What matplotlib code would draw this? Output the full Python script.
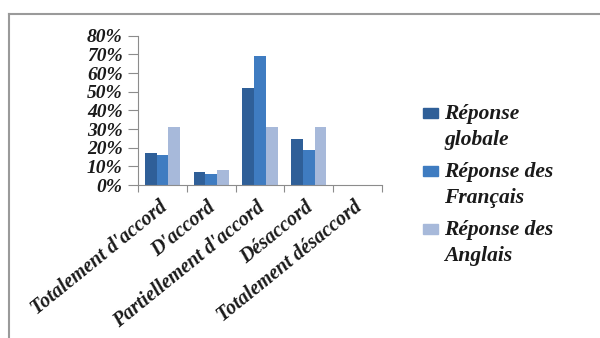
import numpy as np
import matplotlib.pyplot as plt
import matplotlib.transforms as mtransforms
from matplotlib.lines import Line2D
from matplotlib.patches import Rectangle
from matplotlib.ticker import FixedLocator, PercentFormatter

categories = ["Totalement d'accord", "D'accord", "Partiellement d'accord",
              "Désaccord", "Totalement désaccord"]
globale = [17, 7, 52, 24.5, 0]
francais = [16, 6, 69, 18.5, 0]
anglais = [31, 8, 31, 31, 0]
series_names = [("Réponse", "globale"), ("Réponse des", "Français"),
                ("Réponse des", "Anglais")]
colors = ["#2F5F98", "#3F7CC1", "#A7B9DA"]

plt.rcParams['font.family'] = ['Liberation Serif', 'DejaVu Serif']
txt = dict(fontweight='bold', fontstyle='italic', color='#1a1a1a')

W, H = 600, 338
fig = plt.figure(figsize=(W / 100, H / 100), dpi=100)
ax = fig.add_axes([138 / W, 1 - 185 / H, 244 / W, 149.3 / H])

x = np.arange(len(categories))
w = 0.24
for i, vals in enumerate([globale, francais, anglais]):
    ax.bar(x + (i - 1) * w, vals, w, color=colors[i])

ax.set_xlim(-0.5, len(categories) - 0.5)
ax.set_ylim(0, 80)
ax.set_yticks(np.arange(0, 81, 10))
ax.yaxis.set_major_formatter(PercentFormatter(decimals=0))
for s in ['top', 'right']:
    ax.spines[s].set_visible(False)
for s in ['left', 'bottom']:
    ax.spines[s].set_color('#8c8c8c')
ax.tick_params(axis='y', colors='#8c8c8c', length=7, labelcolor='#1a1a1a',
               labelsize=14, pad=4)
for t in ax.get_yticklabels():
    t.set_fontweight('bold')
    t.set_fontstyle('italic')

# ticks at group boundaries, labels at group centers
ax.xaxis.set_major_locator(FixedLocator(np.arange(len(categories) + 1) - 0.5))
ax.xaxis.set_minor_locator(FixedLocator(x))
ax.tick_params(axis='x', which='major', colors='#8c8c8c', length=5, labelbottom=False)
ax.tick_params(axis='x', which='minor', length=0, pad=9)
ax.set_xticklabels(categories, minor=True, rotation=39, ha='right',
                   rotation_mode='anchor', fontsize=14.5, **txt)
shift = mtransforms.ScaledTranslation(-4 / 100, 0, fig.dpi_scale_trans)
for t in ax.get_xticklabels(minor=True):
    t.set_transform(t.get_transform() + shift)

# legend drawn by hand: square next to the first line of each entry
sq_top = [107.7, 165.7, 223.7]
base = [119, 177, 235]
for i, (l1, l2) in enumerate(series_names):
    fig.add_artist(Rectangle((423 / W, 1 - (sq_top[i] + 10) / H), 15 / W, 10 / H,
                             color=colors[i], transform=fig.transFigure))
    fig.text(444 / W, 1 - base[i] / H, l1, fontsize=15.5, va='baseline', **txt)
    fig.text(444 / W, 1 - (base[i] + 25.5) / H, l2, fontsize=15.5, va='baseline', **txt)

# chart border (left and top visible)
fig.add_artist(Line2D([0.015, 0.015], [0, 0.96], color='#9a9a9a', lw=1.5,
                      transform=fig.transFigure))
fig.add_artist(Line2D([0.015, 1], [0.96, 0.96], color='#9a9a9a', lw=1.5,
                      transform=fig.transFigure))

fig.savefig("out.png", dpi=100)
